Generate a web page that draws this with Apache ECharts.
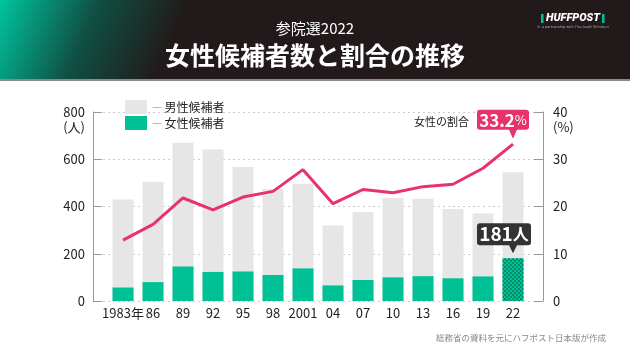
<!DOCTYPE html>
<html>
<head>
<meta charset="utf-8">
<script src="https://cdn.jsdelivr.net/npm/echarts@6/dist/echarts.min.js"></script>
<style>
  html, body { margin: 0; padding: 0; background: #fff; }
  #chart { width: 630px; height: 354px; }
</style>
</head>
<body>
<div id="chart"></div>
<script>
  // 選挙年（両端は余白用の空カテゴリ）
  const years = ['', '1983年', '86', '89', '92', '95', '98', '2001', '04', '07', '10', '13', '16', '19', '22', '']
  const totalCandidates = ['-', 430, 505, 670, 641, 567, 474, 496, 320, 377, 437, 433, 389, 370, 545, '-']
  const womenCandidates = ['-', 57, 80, 146, 123, 125, 110, 138, 66, 89, 100, 105, 96, 104, 181, '-']
  const womenRatio = ['-', 12.9, 16.2, 21.8, 19.3, 22.0, 23.2, 27.8, 20.6, 23.6, 22.9, 24.2, 24.7, 28.1, 33.2, '-']
  const leftTicks = [0, 200, 400, 600, 800]
  const rightTicks = [0, 10, 20, 30, 40]

  const font = '"Noto Sans CJK JP", "Noto Sans", sans-serif'
  const green = '#00c096'
  const pink = '#e8336a'

  const chart = echarts.init(document.getElementById('chart'), null, { renderer: 'canvas' })

  const lastIdx = years.length - 2

  // 最終年だけドット柄
  const womenData = womenCandidates.map((v, i) => {
    if (i !== lastIdx) return v
    return {
      value: v,
      itemStyle: {
        decal: {
          symbol: 'rect',
          symbolSize: 1,
          color: 'rgba(0, 90, 60, 0.5)',
          dashArrayX: [[2, 2], [0, 2, 2, 0]],
          dashArrayY: [2, 0]
        }
      }
    }
  })

  chart.setOption({
    animation: false,
    textStyle: { fontFamily: font },
    grid: { left: 93, right: 87, top: 112, bottom: 53 },
    legend: {
      data: ['男性候補者', '女性候補者'],
      orient: 'vertical',
      left: 120,
      top: 95,
      itemWidth: 22,
      itemHeight: 14,
      itemGap: 2,
      icon: 'rect',
      formatter: name => '{d|—} {n|' + name + '}',
      textStyle: {
        rich: {
          d: { color: '#999', fontSize: 11 },
          n: { color: '#222', fontSize: 12, fontFamily: font }
        }
      }
    },
    xAxis: {
      type: 'category',
      data: years,
      boundaryGap: false,
      axisLine: { show: false },
      axisTick: { show: false },
      axisLabel: { color: '#222', fontSize: 13, margin: 6, interval: 0 }
    },
    yAxis: [
      {
        type: 'value',
        min: leftTicks[0],
        max: leftTicks[leftTicks.length - 1],
        interval: 200,
        axisLine: { show: true, lineStyle: { color: '#999' } },
        axisTick: { show: true, inside: true, length: 9, lineStyle: { color: '#999' } },
        splitLine: { lineStyle: { color: '#ccc', type: [2, 3] } },
        axisLabel: {
          color: '#222',
          fontSize: 13,
          margin: 8,
          lineHeight: 15,
          formatter: v => v === 800 ? '\n800\n(人)' : String(v)
        }
      },
      {
        type: 'value',
        min: rightTicks[0],
        max: rightTicks[rightTicks.length - 1],
        interval: 10,
        position: 'right',
        axisLine: { show: true, lineStyle: { color: '#999' } },
        axisTick: { show: true, inside: true, length: 9, lineStyle: { color: '#999' } },
        splitLine: { show: false },
        axisLabel: {
          color: '#222',
          fontSize: 13,
          margin: 10,
          lineHeight: 15,
          formatter: v => v === 40 ? '\n40\n(%)' : String(v)
        }
      }
    ],
    series: [
      {
        name: '男性候補者',
        type: 'bar',
        data: totalCandidates,
        barWidth: 21,
        barGap: '-100%',
        itemStyle: { color: '#e6e6e6' }
      },
      {
        name: '女性候補者',
        type: 'bar',
        data: womenData,
        barWidth: 21,
        barGap: '-100%',
        itemStyle: { color: green },
        markPoint: {
          symbol: 'path://M3,0 H51 Q54,0 54,3 V19 Q54,22 51,22 H40 L36,30 L32,22 H3 Q0,22 0,19 V3 Q0,0 3,0 Z',
          symbolSize: [54, 30],
          symbolOffset: [-9, -20],
          itemStyle: { color: '#333' },
          label: {
            show: true,
            offset: [0, -4],
            formatter: p => '{n|' + p.value + '}{u|人}',
            rich: {
              n: { color: '#fff', fontSize: 19, fontWeight: 'bold', fontFamily: font },
              u: { color: '#fff', fontSize: 16, fontWeight: 'bold', fontFamily: font }
            }
          },
          data: [{ coord: [years[lastIdx], womenCandidates[lastIdx]], value: womenCandidates[lastIdx] }]
        }
      },
      {
        name: '女性の割合',
        type: 'line',
        yAxisIndex: 1,
        data: womenRatio,
        symbol: 'none',
        lineStyle: { color: pink, width: 3 },
        itemStyle: { color: pink },
        z: 5,
        markPoint: {
          symbol: 'path://M3,0 H49 Q52,0 52,3 V17 Q52,20 49,20 H40 L36,29 L32,20 H3 Q0,20 0,17 V3 Q0,0 3,0 Z',
          symbolSize: [52, 29],
          symbolOffset: [-10, -20],
          itemStyle: { color: pink },
          label: {
            show: true,
            offset: [0, -4],
            formatter: p => '{n|' + p.value + '}{u|%}',
            rich: {
              n: { color: '#fff', fontSize: 17, fontWeight: 'bold', fontFamily: font },
              u: { color: '#fff', fontSize: 13, fontFamily: font }
            }
          },
          data: [{ coord: [years[lastIdx], womenRatio[lastIdx]], value: womenRatio[lastIdx] }]
        }
      }
    ],
    graphic: [
      {
        type: 'rect',
        left: 0, top: 0,
        shape: { width: 630, height: 79 },
        style: {
          fill: new echarts.graphic.LinearGradient(0, 0, 0.3, 1, [
            { offset: 0, color: '#00c4a0' },
            { offset: 0.45, color: '#104f42' },
            { offset: 0.85, color: '#221a1a' },
            { offset: 1, color: '#221a1a' }
          ])
        },
        silent: true
      },
      {
        type: 'rect',
        left: 0, top: 79,
        shape: { width: 630, height: 2 },
        style: { fill: '#8a8a8a' },
        silent: true
      },
      {
        type: 'text',
        x: 315, y: 28,
        style: {
          text: '参院選2022',
          fill: '#fff',
          font: '15px ' + font,
          textAlign: 'center',
          textVerticalAlign: 'middle'
        }
      },
      {
        type: 'text',
        x: 315, y: 55,
        style: {
          text: '女性候補者数と割合の推移',
          fill: '#fff',
          font: 'bold 25px ' + font,
          textAlign: 'center',
          textVerticalAlign: 'middle'
        }
      },
      // ロゴ
      { type: 'rect', x: 541, y: 14, shape: { width: 2.5, height: 9 }, style: { fill: green } },
      { type: 'rect', x: 602, y: 14, shape: { width: 2.5, height: 9 }, style: { fill: green } },
      {
        type: 'text',
        x: 573, y: 18.5,
        style: {
          text: 'HUFFPOST',
          fill: '#fff',
          font: 'italic 900 11px Roboto, sans-serif',
          textAlign: 'center',
          textVerticalAlign: 'middle'
        }
      },
      {
        type: 'text',
        x: 573, y: 27,
        style: {
          text: 'in a partnership with The Asahi Shimbun',
          fill: '#aaa',
          font: '3.5px "DejaVu Sans", sans-serif',
          textAlign: 'center',
          textVerticalAlign: 'middle'
        }
      },
      {
        type: 'text',
        x: 469, y: 122,
        style: {
          text: '女性の割合',
          fill: '#222',
          font: '11px ' + font,
          textAlign: 'right',
          textVerticalAlign: 'middle'
        }
      },
      {
        type: 'text',
        x: 606, y: 338,
        style: {
          text: '総務省の資料を元にハフポスト日本版が作成',
          fill: '#888',
          font: '8.5px ' + font,
          textAlign: 'right',
          textVerticalAlign: 'middle'
        }
      }
    ]
  })
</script>
</body>
</html>
